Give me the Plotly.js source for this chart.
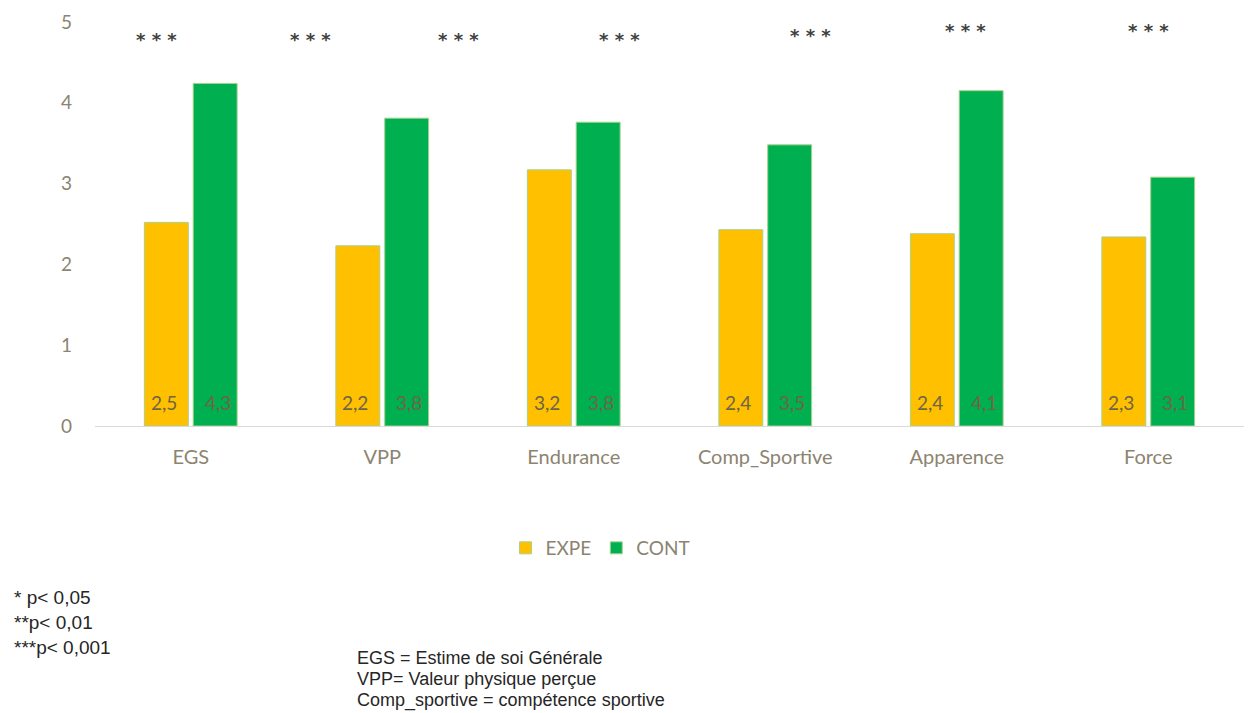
<!DOCTYPE html>
<html><head><meta charset="utf-8">
<script src="https://cdn.plot.ly/plotly-3.0.1.min.js"></script>
<style>html,body{margin:0;padding:0;background:#fff}#chart{width:1251px;height:713px}</style>
</head><body><div id="chart"></div>
<script>
const categories = ["EGS", "VPP", "Endurance", "Comp_Sportive", "Apparence", "Force"];
const expeValues = [2.52, 2.23, 3.17, 2.43, 2.38, 2.34];
const contValues = [4.24, 3.81, 3.76, 3.48, 4.15, 3.08];
const expeLabels = ["2,5", "2,2", "3,2", "2,4", "2,4", "2,3"];
const contLabels = ["4,3", "3,8", "3,8", "3,5", "4,1", "3,1"];
const yTicks = [0, 1, 2, 3, 4, 5];
const sigMarks = ["* * *", "* * *", "* * *", "* * *", "* * *", "* * *", "* * *"];
const footnotes = ["* p< 0,05", "**p< 0,01", "***p< 0,001"];
const abbreviations = ["EGS = Estime de soi Générale", "VPP= Valeur physique perçue", "Comp_sportive = compétence sportive"];

const axisColor = "#8c8470";
const labelColor = "#6e6448";
const baseFont = "Lato, 'Open Sans', sans-serif";
const noteFont = "'Liberation Sans', Arial, sans-serif";

const traces = [
  {type: "bar", name: "EXPE", x: categories, y: expeValues,
   marker: {color: "#FFC000", line: {color: "#A9D18E", width: 1}}, hoverinfo: "skip"},
  {type: "bar", name: "CONT", x: categories, y: contValues,
   marker: {color: "#00B050", line: {color: "#A9D18E", width: 1}}, hoverinfo: "skip"}
];

const annotations = [];
// value labels near the base of each bar
categories.forEach((c, i) => {
  [[expeLabels[i], -27], [contLabels[i], 27]].forEach(([t, dx]) => annotations.push({
    x: c, y: 0, xref: "x", yref: "y", text: t, showarrow: false,
    xanchor: "center", yanchor: "middle", xshift: dx, yshift: 24,
    font: {family: baseFont, size: 19, color: labelColor}
  }));
});
// significance marks: x in category units, y in data units
const sigX = [-0.18, 0.626, 1.399, 2.239, 3.236, 4.045, 5.0];
const sigY = [4.78, 4.78, 4.78, 4.78, 4.83, 4.90, 4.89];
sigMarks.forEach((s, i) => annotations.push({
  x: sigX[i], y: sigY[i], xref: "x", yref: "y", text: "<b>" + s + "</b>", showarrow: false,
  xanchor: "center", yanchor: "middle",
  font: {family: "'DejaVu Sans', sans-serif", size: 18, color: "#404040"}
}));

const W = 1251, H = 713, L = 95, R = 7, T = 22, B = 287;
const px = x => (x - L) / (W - L - R);
const py = y => 1 - (y - T) / (H - T - B);
footnotes.forEach((t, i) => annotations.push({
  x: px(12), y: py(597 + i * 25), xref: "paper", yref: "paper", text: t, showarrow: false,
  xanchor: "left", yanchor: "middle",
  font: {family: noteFont, size: 19, color: "#262626"}
}));
abbreviations.forEach((t, i) => annotations.push({
  x: px(355), y: py(658 + i * 21), xref: "paper", yref: "paper", text: t, showarrow: false,
  xanchor: "left", yanchor: "middle",
  font: {family: noteFont, size: 18, color: "#262626"}
}));

const layout = {
  width: W, height: H,
  margin: {l: L, r: R, t: T, b: B, pad: 0},
  paper_bgcolor: "#ffffff", plot_bgcolor: "#ffffff",
  barmode: "group", bargap: 0.49, bargroupgap: 0.1,
  showlegend: true,
  legend: {orientation: "h", x: 0.44, xanchor: "center", y: py(548), yanchor: "middle",
    font: {family: baseFont, size: 19, color: axisColor}, itemwidth: 30, traceorder: "normal"},
  xaxis: {type: "category", showgrid: false, showline: true, linecolor: "#d9d9d9", linewidth: 1,
    ticks: "", ticklabelstandoff: 13,
    tickfont: {family: baseFont, size: 20, color: axisColor}, fixedrange: true},
  yaxis: {range: [0, 5], tickvals: yTicks, ticktext: yTicks.map(String), showgrid: false,
    zeroline: false, showline: false, ticks: "", ticklabelstandoff: 22,
    tickfont: {family: baseFont, size: 19, color: axisColor}, fixedrange: true},
  annotations: annotations
};

Plotly.newPlot("chart", traces, layout, {displayModeBar: false, staticPlot: true});
</script>
</body></html>
